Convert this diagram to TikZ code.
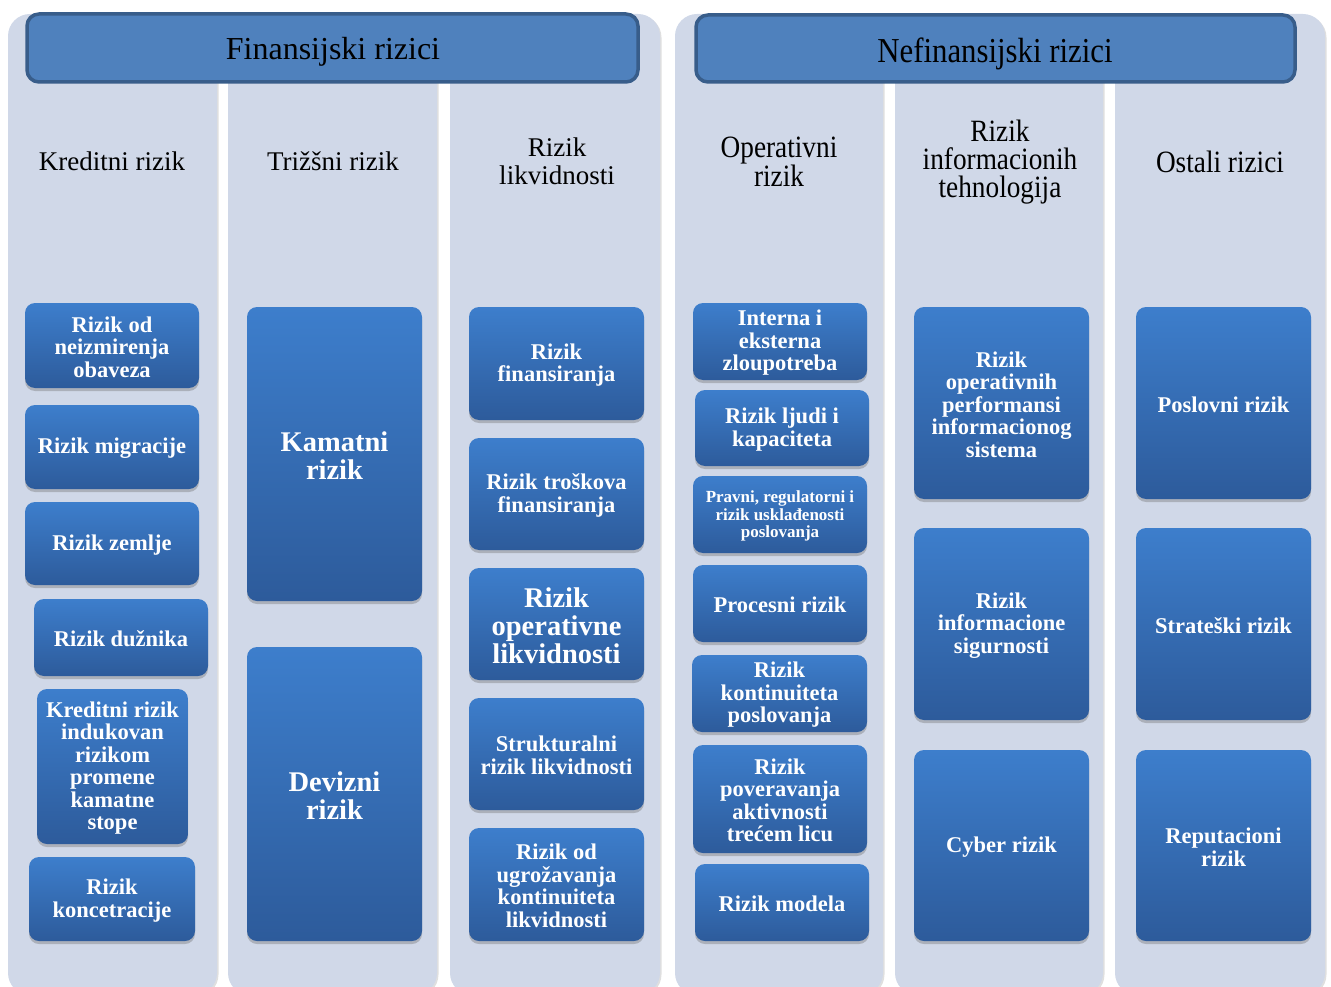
\documentclass[tikz,border=0pt]{standalone}
\usepackage{fontspec}
\setmainfont{Liberation Serif}
\newfontfamily\condfont[FakeStretch=0.88]{Liberation Serif}
\usetikzlibrary{shadows}
\definecolor{colbg}{RGB}{208,216,232}
\definecolor{hdrfill}{RGB}{79,129,189}
\definecolor{hdrline}{RGB}{56,93,138}
\definecolor{boxtop}{RGB}{61,126,204}
\definecolor{boxbot}{RGB}{45,91,155}
\tikzset{
  colpanel/.style={fill=colbg, rounded corners=22pt, drop shadow={shadow xshift=1.5pt, shadow yshift=-1.5pt, opacity=0.25, fill=black!50}},
  hdr/.style={fill=hdrfill, draw=hdrline, line width=3.5pt, rounded corners=12pt, inner sep=0pt, text=black},
  collabel/.style={align=center, font=\fontsize{27}{28}\selectfont, text=black},
  rcollabel/.style={collabel, font=\condfont\fontsize{31}{28}\selectfont},
  bx/.style={rounded corners=10pt, top color=boxtop, bottom color=boxbot, inner sep=0pt,
     drop shadow={shadow xshift=0pt, shadow yshift=-3pt, opacity=0.35, fill=black!60}},
  bxtext/.style={inner sep=0pt, align=center, text=white, font=\bfseries\fontsize{22.5}{22.5}\selectfont},
  bigbx/.style={bxtext, font=\bfseries\fontsize{28.5}{28}\selectfont},
  smallbx/.style={bxtext, font=\bfseries\fontsize{17}{17.2}\selectfont}
}
\newcommand\rbox[7][]{%
  \node[bx, minimum width={(#5-#3)*1pt}, minimum height={(#6-#4)*1pt}] (#2) at ({(#3+#5)/2},{(#4+#6)/2}) {};
  \node[bxtext,#1] (#2t) at ({(#3+#5)/2},{(#4+#6)/2+1.5}) {#7};}
\begin{document}
\begin{tikzpicture}[x=1pt,y=-1pt]
\useasboundingbox (0,0) rectangle (1331,987);
\begin{scope}
\clip (0,0) rectangle (1331,987);
\fill[colpanel] (8,14) rectangle (217,995);
\fill[colpanel] (228,14) rectangle (437,995);
\fill[colpanel] (450,14) rectangle (660,995);
\fill[colpanel] (675,14) rectangle (883,995);
\fill[colpanel] (895,14) rectangle (1103,995);
\fill[colpanel] (1115,14) rectangle (1325,995);
\end{scope}

\node[hdr, minimum width=611pt, minimum height=68pt] (fin) at (332.5,48) {};
\node[font=\fontsize{32}{32}\selectfont] (fint) at (333,52) {Finansijski rizici};
\node[hdr, minimum width=599pt, minimum height=67pt] (nef) at (995.5,48.5) {};
\node[font=\condfont\fontsize{35}{35}\selectfont] (neft) at (995,54) {Nefinansijski rizici};

\node[collabel] (l1) at (112,161) {Kreditni rizik};
\node[collabel] (l2) at (333,161) {Trižšni rizik};
\node[collabel] (l3) at (557,161) {Rizik\\likvidnosti};
\node[rcollabel] (l4) at (779,162) {Operativni\\rizik};
\node[rcollabel] (l5) at (1000,162) {Rizik\\informacionih\\tehnologija};
\node[rcollabel] (l6) at (1220,162) {Ostali rizici};

% column 1
\rbox{a1}{25}{303}{199}{388}{Rizik od\\neizmirenja\\obaveza}
\rbox{a2}{25}{405}{199}{489}{Rizik migracije}
\rbox{a3}{25}{502}{199}{585}{Rizik zemlje}
\rbox{a4}{34}{599}{208}{676}{Rizik dužnika}
\rbox{a5}{37}{689}{188}{844}{Kreditni rizik\\indukovan\\rizikom\\promene\\kamatne\\stope}
\rbox{a6}{29}{857}{195}{941}{Rizik\\koncetracije}
% column 2
\rbox[bigbx]{b1}{247}{307}{422}{601}{Kamatni\\rizik}
\rbox[bigbx]{b2}{247}{647}{422}{941}{Devizni\\rizik}
% column 3
\rbox{c1}{469}{307}{644}{420}{Rizik\\finansiranja}
\rbox{c2}{469}{438}{644}{550}{Rizik troškova\\finansiranja}
\rbox[bigbx]{c3}{469}{568}{644}{680}{Rizik\\operativne\\likvidnosti}
\rbox{c4}{469}{698}{644}{810}{Strukturalni\\rizik likvidnosti}
\rbox{c5}{469}{828}{644}{941}{Rizik od\\ugrožavanja\\kontinuiteta\\likvidnosti}
% column 4
\rbox{d1}{693}{303}{867}{380}{Interna i\\eksterna\\zloupotreba}
\rbox{d2}{695}{390}{869}{466}{Rizik ljudi i\\kapaciteta}
\rbox[smallbx]{d3}{693}{476}{867}{553}{Pravni, regulatorni i\\rizik usklađenosti\\poslovanja}
\rbox{d4}{693}{565}{867}{642}{Procesni rizik}
\rbox{d5}{692}{655}{867}{732}{Rizik\\kontinuiteta\\poslovanja}
\rbox{d6}{693}{745}{867}{853}{Rizik\\poveravanja\\aktivnosti\\trećem licu}
\rbox{d7}{695}{864}{869}{941}{Rizik modela}
% column 5
\rbox{e1}{914}{307}{1089}{499}{Rizik\\operativnih\\performansi\\informacionog\\sistema}
\rbox{e2}{914}{528}{1089}{720}{Rizik\\informacione\\sigurnosti}
\rbox{e3}{914}{750}{1089}{941}{Cyber rizik}
% column 6
\rbox{f1}{1136}{307}{1311}{499}{Poslovni rizik}
\rbox{f2}{1136}{528}{1311}{720}{Strateški rizik}
\rbox{f3}{1136}{750}{1311}{941}{Reputacioni\\rizik}
\end{tikzpicture}
\end{document}
